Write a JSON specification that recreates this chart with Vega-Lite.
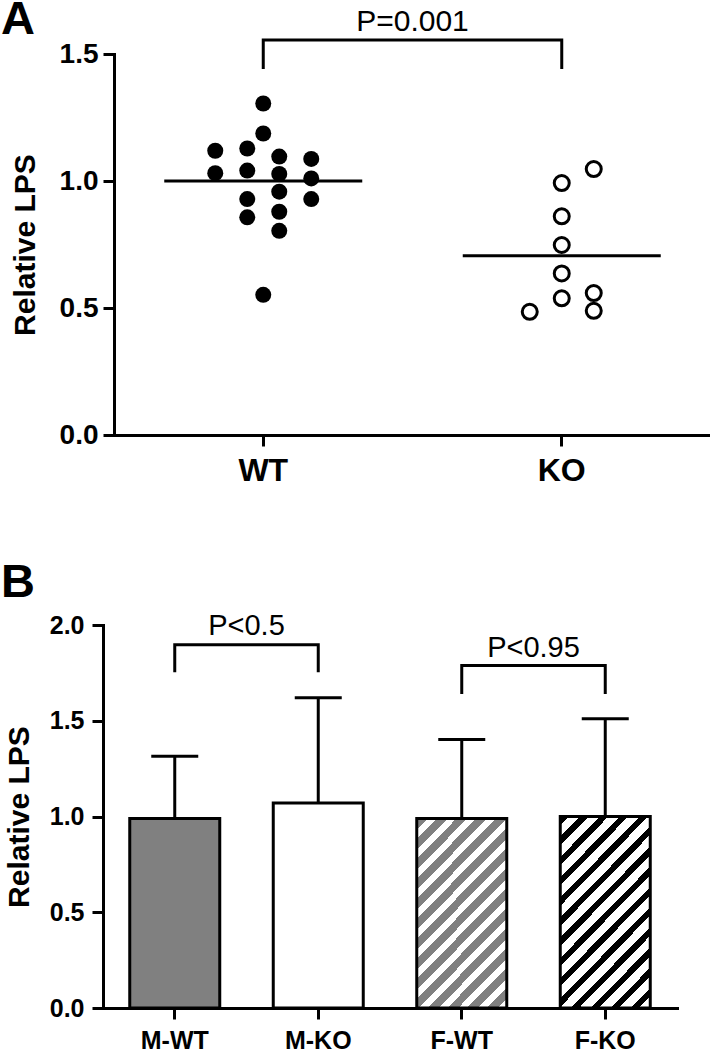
{
  "$schema": "https://vega.github.io/schema/vega-lite/v6.json",
  "padding": {"top": -5, "left": 0, "right": 0, "bottom": 0},
  "background": "white",
  "columns": 1,
  "align": "none",
  "spacing": 73,
  "config": {
    "font": "Liberation Sans",
    "view": {"stroke": null},
    "axis": {
      "domainColor": "black", "tickColor": "black", "domainWidth": 3, "tickWidth": 3, "tickSize": 11,
      "labelColor": "black", "titleColor": "black", "grid": false,
      "labelFont": "Liberation Sans", "titleFont": "Liberation Sans",
      "labelFontWeight": "bold", "titleFontWeight": "bold", "domainCap": "square"
    }
  },
  "datasets": {
    "ptsA": [
      {"group": "WT", "col": 0, "value": 1.305},
      {"group": "WT", "col": 0, "value": 1.187},
      {"group": "WT", "col": -3, "value": 1.119},
      {"group": "WT", "col": -1, "value": 1.128},
      {"group": "WT", "col": 1, "value": 1.096},
      {"group": "WT", "col": 3, "value": 1.087},
      {"group": "WT", "col": -3, "value": 1.031},
      {"group": "WT", "col": -1, "value": 1.041},
      {"group": "WT", "col": 1, "value": 1.028},
      {"group": "WT", "col": 3, "value": 1.010},
      {"group": "WT", "col": -1, "value": 0.929},
      {"group": "WT", "col": 1, "value": 0.958},
      {"group": "WT", "col": 3, "value": 0.929},
      {"group": "WT", "col": -1, "value": 0.857},
      {"group": "WT", "col": 1, "value": 0.879},
      {"group": "WT", "col": 1, "value": 0.804},
      {"group": "WT", "col": 0, "value": 0.552},
      {"group": "KO", "col": 2, "value": 1.047},
      {"group": "KO", "col": 0, "value": 0.992},
      {"group": "KO", "col": 0, "value": 0.861},
      {"group": "KO", "col": 0, "value": 0.748},
      {"group": "KO", "col": 0, "value": 0.636},
      {"group": "KO", "col": 0, "value": 0.538},
      {"group": "KO", "col": 2, "value": 0.559},
      {"group": "KO", "col": -2, "value": 0.485},
      {"group": "KO", "col": 2, "value": 0.489}
    ],
    "meanA": [
      {"group": "WT", "value": 1.0},
      {"group": "KO", "value": 0.706}
    ],
    "bracketA": [
      {"group": "WT", "y": 1.441, "o": 1},
      {"group": "WT", "y": 1.555, "o": 2},
      {"group": "KO", "y": 1.555, "o": 3},
      {"group": "KO", "y": 1.441, "o": 4}
    ],
    "textA": [
      {"group": "WT", "y": 1.592, "label": "P=0.001"}
    ],
    "panelA": [
      {"group": "WT", "y": 1.58, "label": "A"}
    ],
    "bars": [
      {"g": "M-WT", "mean": 0.99, "upper": 1.315},
      {"g": "M-KO", "mean": 1.07, "upper": 1.62},
      {"g": "F-WT", "mean": 0.99, "upper": 1.402},
      {"g": "F-KO", "mean": 1.0, "upper": 1.511}
    ],
    "bracketB": [
      {"g": "M-WT", "y": 1.753, "o": 1, "pair": "M"},
      {"g": "M-WT", "y": 1.897, "o": 2, "pair": "M"},
      {"g": "M-KO", "y": 1.897, "o": 3, "pair": "M"},
      {"g": "M-KO", "y": 1.753, "o": 4, "pair": "M"},
      {"g": "F-WT", "y": 1.640, "o": 1, "pair": "F"},
      {"g": "F-WT", "y": 1.788, "o": 2, "pair": "F"},
      {"g": "F-KO", "y": 1.788, "o": 3, "pair": "F"},
      {"g": "F-KO", "y": 1.640, "o": 4, "pair": "F"}
    ],
    "textB": [
      {"g": "M-WT", "y": 1.949, "label": "P<0.5"},
      {"g": "F-WT", "y": 1.832, "label": "P<0.95"}
    ],
    "panelB": [
      {"g": "M-WT", "y": 2.144, "label": "B"}
    ]
  },
  "concat": [
    {
      "width": 597,
      "height": 381,
      "encoding": {
        "x": {
          "field": "group", "type": "nominal", "sort": ["WT", "KO"],
          "scale": {"domain": ["WT", "KO"], "paddingInner": 0, "paddingOuter": 0},
          "axis": {"title": null, "labelFontSize": 32, "labelPadding": 9, "labelAngle": 0}
        }
      },
      "layer": [
        {
          "data": {"name": "bracketA"},
          "mark": {"type": "line", "color": "black", "strokeWidth": 3, "strokeJoin": "miter", "strokeCap": "butt"},
          "encoding": {
            "y": {
              "field": "y", "type": "quantitative",
              "scale": {"domain": [0, 1.5], "nice": false},
              "axis": {"title": "Relative LPS", "titleFontSize": 30, "labelFontSize": 28, "labelPadding": 5, "values": [0, 0.5, 1, 1.5], "format": ".1f", "titlePadding": 19}
            },
            "order": {"field": "o", "type": "quantitative"}
          }
        },
        {
          "data": {"name": "textA"},
          "mark": {"type": "text", "fontSize": 30, "baseline": "alphabetic", "align": "center", "color": "black"},
          "encoding": {
            "x": {"field": "group", "type": "nominal", "bandPosition": 1},
            "y": {"field": "y", "type": "quantitative"},
            "text": {"field": "label"}
          }
        },
        {
          "data": {"name": "panelA"},
          "mark": {"type": "text", "fontSize": 47, "fontWeight": "bold", "baseline": "alphabetic", "align": "left", "color": "black"},
          "encoding": {
            "x": {"field": "group", "type": "nominal", "bandPosition": -0.3786},
            "y": {"field": "y", "type": "quantitative"},
            "text": {"field": "label"}
          }
        },
        {
          "data": {"name": "meanA"},
          "mark": {"type": "tick", "color": "black", "opacity": 1, "thickness": 3, "size": 198, "orient": "horizontal"},
          "encoding": {
            "y": {"field": "value", "type": "quantitative"}
          }
        },
        {
          "data": {"name": "ptsA"},
          "transform": [{"filter": "datum.group === 'WT'"}],
          "mark": {"type": "point", "shape": "circle", "filled": true, "color": "black", "size": 256, "opacity": 1},
          "encoding": {
            "xOffset": {"field": "col", "type": "quantitative", "scale": {"domain": [-3, 3], "range": [101.25, 197.25]}},
            "y": {"field": "value", "type": "quantitative"}
          }
        },
        {
          "data": {"name": "ptsA"},
          "transform": [{"filter": "datum.group === 'KO'"}],
          "mark": {"type": "point", "shape": "circle", "filled": false, "stroke": "black", "fill": "white", "strokeWidth": 3, "size": 225, "opacity": 1},
          "encoding": {
            "xOffset": {"field": "col", "type": "quantitative", "scale": {"domain": [-3, 3], "range": [101.25, 197.25]}},
            "y": {"field": "value", "type": "quantitative"}
          }
        }
      ]
    },
    {
      "width": 563,
      "height": 383,
      "encoding": {
        "x": {
          "field": "g", "type": "nominal", "sort": ["M-WT", "M-KO", "F-WT", "F-KO"],
          "scale": {"type": "band", "domain": ["M-WT", "M-KO", "F-WT", "F-KO"], "range": [-11, 563], "paddingInner": 0.37, "paddingOuter": 0.185},
          "axis": {"title": null, "labelFontSize": 25, "labelPadding": 9, "labelAngle": 0}
        }
      },
      "layer": [
        {
          "data": {"name": "bars"},
          "mark": {"type": "rule", "color": "black", "strokeWidth": 3, "opacity": 1},
          "encoding": {
            "y": {
              "field": "mean", "type": "quantitative",
              "scale": {"domain": [0, 2], "nice": false},
              "axis": {"title": "Relative LPS", "titleFontSize": 30, "labelFontSize": 25, "labelPadding": 8, "values": [0, 0.5, 1, 1.5, 2], "format": ".1f", "titlePadding": 15, "offset": 11}
            },
            "y2": {"field": "upper"}
          }
        },
        {
          "data": {"name": "bars"},
          "mark": {"type": "tick", "color": "black", "opacity": 1, "thickness": 3, "size": 47, "orient": "horizontal"},
          "encoding": {
            "y": {"field": "upper", "type": "quantitative"}
          }
        },
        {
          "data": {"name": "bars"},
          "transform": [{"filter": "datum.g === 'M-WT'"}],
          "mark": {"type": "bar", "size": 90, "fill": "#808080", "stroke": "black", "strokeWidth": 3, "opacity": 1},
          "encoding": {"y": {"field": "mean", "type": "quantitative"}}
        },
        {
          "data": {"name": "bars"},
          "transform": [{"filter": "datum.g === 'M-KO'"}],
          "mark": {"type": "bar", "size": 90, "fill": "white", "stroke": "black", "strokeWidth": 3, "opacity": 1},
          "encoding": {"y": {"field": "mean", "type": "quantitative"}}
        },
        {
          "data": {"name": "bars"},
          "transform": [{"filter": "datum.g === 'F-WT'"}],
          "mark": {"type": "bar", "size": 90, "stroke": "black", "strokeWidth": 3, "opacity": 1,
            "fill": {"gradient": "linear", "x1": 0, "y1": 0, "x2": 0.5743, "y2": 1.2033, "stops": [
              {"offset": 0.0, "color": "#808080"}, {"offset": 0.0393, "color": "#808080"}, {"offset": 0.0393, "color": "white"}, {"offset": 0.0714, "color": "white"},
              {"offset": 0.0714, "color": "#808080"}, {"offset": 0.1107, "color": "#808080"}, {"offset": 0.1107, "color": "white"}, {"offset": 0.1429, "color": "white"},
              {"offset": 0.1429, "color": "#808080"}, {"offset": 0.1821, "color": "#808080"}, {"offset": 0.1821, "color": "white"}, {"offset": 0.2143, "color": "white"},
              {"offset": 0.2143, "color": "#808080"}, {"offset": 0.2536, "color": "#808080"}, {"offset": 0.2536, "color": "white"}, {"offset": 0.2857, "color": "white"},
              {"offset": 0.2857, "color": "#808080"}, {"offset": 0.325, "color": "#808080"}, {"offset": 0.325, "color": "white"}, {"offset": 0.3571, "color": "white"},
              {"offset": 0.3571, "color": "#808080"}, {"offset": 0.3964, "color": "#808080"}, {"offset": 0.3964, "color": "white"}, {"offset": 0.4286, "color": "white"},
              {"offset": 0.4286, "color": "#808080"}, {"offset": 0.4679, "color": "#808080"}, {"offset": 0.4679, "color": "white"}, {"offset": 0.5, "color": "white"},
              {"offset": 0.5, "color": "#808080"}, {"offset": 0.5393, "color": "#808080"}, {"offset": 0.5393, "color": "white"}, {"offset": 0.5714, "color": "white"},
              {"offset": 0.5714, "color": "#808080"}, {"offset": 0.6107, "color": "#808080"}, {"offset": 0.6107, "color": "white"}, {"offset": 0.6429, "color": "white"},
              {"offset": 0.6429, "color": "#808080"}, {"offset": 0.6821, "color": "#808080"}, {"offset": 0.6821, "color": "white"}, {"offset": 0.7143, "color": "white"},
              {"offset": 0.7143, "color": "#808080"}, {"offset": 0.7536, "color": "#808080"}, {"offset": 0.7536, "color": "white"}, {"offset": 0.7857, "color": "white"},
              {"offset": 0.7857, "color": "#808080"}, {"offset": 0.825, "color": "#808080"}, {"offset": 0.825, "color": "white"}, {"offset": 0.8571, "color": "white"},
              {"offset": 0.8571, "color": "#808080"}, {"offset": 0.8964, "color": "#808080"}, {"offset": 0.8964, "color": "white"}, {"offset": 0.9286, "color": "white"},
              {"offset": 0.9286, "color": "#808080"}, {"offset": 0.9679, "color": "#808080"}, {"offset": 0.9679, "color": "white"}, {"offset": 1.0, "color": "white"}
            ]}
          },
          "encoding": {"y": {"field": "mean", "type": "quantitative"}}
        },
        {
          "data": {"name": "bars"},
          "transform": [{"filter": "datum.g === 'F-KO'"}],
          "mark": {"type": "bar", "size": 90, "stroke": "black", "strokeWidth": 3, "opacity": 1,
            "fill": {"gradient": "linear", "x1": 0, "y1": 0, "x2": 0.5743, "y2": 1.2033, "stops": [
              {"offset": 0.0, "color": "black"}, {"offset": 0.03, "color": "black"}, {"offset": 0.03, "color": "white"}, {"offset": 0.0714, "color": "white"},
              {"offset": 0.0714, "color": "black"}, {"offset": 0.1014, "color": "black"}, {"offset": 0.1014, "color": "white"}, {"offset": 0.1429, "color": "white"},
              {"offset": 0.1429, "color": "black"}, {"offset": 0.1729, "color": "black"}, {"offset": 0.1729, "color": "white"}, {"offset": 0.2143, "color": "white"},
              {"offset": 0.2143, "color": "black"}, {"offset": 0.2443, "color": "black"}, {"offset": 0.2443, "color": "white"}, {"offset": 0.2857, "color": "white"},
              {"offset": 0.2857, "color": "black"}, {"offset": 0.3157, "color": "black"}, {"offset": 0.3157, "color": "white"}, {"offset": 0.3571, "color": "white"},
              {"offset": 0.3571, "color": "black"}, {"offset": 0.3871, "color": "black"}, {"offset": 0.3871, "color": "white"}, {"offset": 0.4286, "color": "white"},
              {"offset": 0.4286, "color": "black"}, {"offset": 0.4586, "color": "black"}, {"offset": 0.4586, "color": "white"}, {"offset": 0.5, "color": "white"},
              {"offset": 0.5, "color": "black"}, {"offset": 0.53, "color": "black"}, {"offset": 0.53, "color": "white"}, {"offset": 0.5714, "color": "white"},
              {"offset": 0.5714, "color": "black"}, {"offset": 0.6014, "color": "black"}, {"offset": 0.6014, "color": "white"}, {"offset": 0.6429, "color": "white"},
              {"offset": 0.6429, "color": "black"}, {"offset": 0.6729, "color": "black"}, {"offset": 0.6729, "color": "white"}, {"offset": 0.7143, "color": "white"},
              {"offset": 0.7143, "color": "black"}, {"offset": 0.7443, "color": "black"}, {"offset": 0.7443, "color": "white"}, {"offset": 0.7857, "color": "white"},
              {"offset": 0.7857, "color": "black"}, {"offset": 0.8157, "color": "black"}, {"offset": 0.8157, "color": "white"}, {"offset": 0.8571, "color": "white"},
              {"offset": 0.8571, "color": "black"}, {"offset": 0.8871, "color": "black"}, {"offset": 0.8871, "color": "white"}, {"offset": 0.9286, "color": "white"},
              {"offset": 0.9286, "color": "black"}, {"offset": 0.9586, "color": "black"}, {"offset": 0.9586, "color": "white"}, {"offset": 1.0, "color": "white"}
            ]}
          },
          "encoding": {"y": {"field": "mean", "type": "quantitative"}}
        },
        {
          "data": {"name": "bracketB"},
          "mark": {"type": "line", "color": "black", "strokeWidth": 3, "strokeJoin": "miter", "strokeCap": "butt"},
          "encoding": {
            "y": {"field": "y", "type": "quantitative"},
            "detail": {"field": "pair"},
            "order": {"field": "o", "type": "quantitative"}
          }
        },
        {
          "data": {"name": "textB"},
          "mark": {"type": "text", "fontSize": 29, "baseline": "alphabetic", "align": "center", "color": "black"},
          "encoding": {
            "x": {"field": "g", "type": "nominal", "bandPosition": 1.2937},
            "y": {"field": "y", "type": "quantitative"},
            "text": {"field": "label"}
          }
        },
        {
          "data": {"name": "panelB"},
          "mark": {"type": "text", "fontSize": 47, "fontWeight": "bold", "baseline": "alphabetic", "align": "left", "color": "black"},
          "encoding": {
            "x": {"field": "g", "type": "nominal", "bandPosition": -1.4215},
            "y": {"field": "y", "type": "quantitative"},
            "text": {"field": "label"}
          }
        }
      ]
    }
  ]
}
